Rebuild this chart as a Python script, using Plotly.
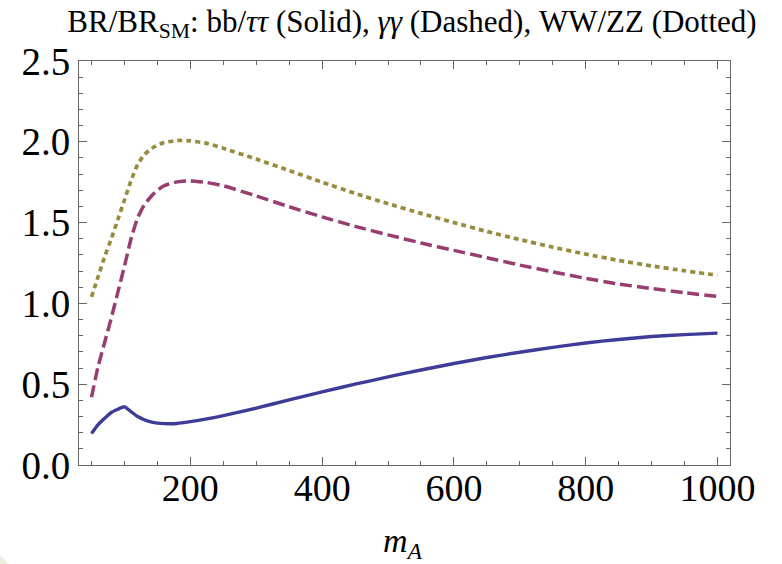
import plotly.graph_objects as go

# ---- data ----
mA = [50, 60, 70, 80, 90, 100, 110, 120, 130, 140, 150, 160, 180, 200, 225, 250,
      300, 350, 400, 450, 500, 550, 600, 650, 700, 750, 800, 850, 900, 950, 1000]

br_bb = [0.195, 0.25, 0.29, 0.325, 0.345, 0.36, 0.33, 0.30, 0.28, 0.267, 0.259, 0.256,
         0.257, 0.268, 0.285, 0.305, 0.352, 0.403, 0.453, 0.50, 0.545, 0.588, 0.628,
         0.665, 0.698, 0.728, 0.755, 0.777, 0.795, 0.807, 0.816]

br_gg = [0.42, 0.61, 0.76, 0.91, 1.07, 1.23, 1.40, 1.53, 1.61, 1.66, 1.70, 1.728,
         1.752, 1.758, 1.748, 1.728, 1.665, 1.598, 1.535, 1.477, 1.424, 1.374, 1.328,
         1.283, 1.237, 1.195, 1.155, 1.12, 1.092, 1.066, 1.043]

br_ww = [1.04, 1.165, 1.29, 1.40, 1.52, 1.64, 1.76, 1.86, 1.92, 1.955, 1.98, 1.995,
         2.008, 2.006, 1.99, 1.96, 1.893, 1.822, 1.75, 1.681, 1.617, 1.557, 1.50,
         1.445, 1.395, 1.348, 1.305, 1.266, 1.232, 1.202, 1.174]

x_ticks = [200, 400, 600, 800, 1000]
y_ticks = [0.0, 0.5, 1.0, 1.5, 2.0, 2.5]
y_tick_labels = ["0.0", "0.5", "1.0", "1.5", "2.0", "2.5"]

title_text = "BR/BR<sub>SM</sub>: bb/<i>ττ</i> (Solid), <i>γγ</i> (Dashed), WW/ZZ (Dotted)"
xlabel_text = "<i>m</i><sub><i>A</i></sub>"

# ---- figure ----
W, H = 782, 564
L, R, T, B = 79, 52, 61, 99
serif = "Liberation Serif"
frame_col = "#666666"

fig = go.Figure()
fig.add_trace(go.Scatter(x=mA, y=br_ww, mode="lines", name="WW/ZZ",
                         line=dict(color="#998b3d", width=3.7, dash="5px,4px", shape="spline", smoothing=0.5)))
fig.add_trace(go.Scatter(x=mA, y=br_gg, mode="lines", name="γγ",
                         line=dict(color="#993d71", width=3.5, dash="12px,5px", shape="spline", smoothing=0.5)))
fig.add_trace(go.Scatter(x=mA, y=br_bb, mode="lines", name="bb/ττ",
                         line=dict(color="#3d3d99", width=3.4, shape="spline", smoothing=0.5)))

axis_common = dict(
    showgrid=False, zeroline=False, showline=True, linecolor=frame_col, linewidth=1,
    mirror="ticks", ticks="inside", tickcolor=frame_col, tickwidth=1, ticklen=8,
)

fig.update_xaxes(
    range=[31, 1019], tickmode="array", tickvals=x_ticks,
    ticktext=[str(v) for v in x_ticks],
    tickfont=dict(family=serif, size=38, color="black"),
    ticklabelstandoff=-11,
    minor=dict(dtick=50, tick0=0, ticks="inside", ticklen=4, tickcolor=frame_col, tickwidth=1),
    **axis_common,
)
fig.update_yaxes(
    range=[0, 2.5], tickmode="array", tickvals=y_ticks, ticktext=y_tick_labels,
    tickfont=dict(family=serif, size=39, color="black"),
    minor=dict(dtick=0.1, tick0=0, ticks="inside", ticklen=4, tickcolor=frame_col, tickwidth=1),
    **axis_common,
)

fig.add_annotation(text=xlabel_text, xref="paper", yref="paper", x=0.497, y=(465 - 543) / 404,
                   xanchor="center", yanchor="middle", showarrow=False,
                   font=dict(family=serif, size=34, color="black"))

# faint decorative background blob in the bottom-left corner
fig.add_shape(type="circle", xref="paper", yref="paper", layer="below",
              x0=(-100 - L) / 651, x1=(20 - L) / 651,
              y0=(465 - 660) / 404, y1=(465 - 540) / 404,
              fillcolor="#eceee0", line=dict(width=0))

fig.update_layout(
    width=W, height=H, margin=dict(l=L, r=R, t=T, b=B),
    paper_bgcolor="white", plot_bgcolor="white", showlegend=False,
    title=dict(text=title_text, x=412 / W, xref="container", xanchor="center",
               y=1 - 21 / H, yref="container", yanchor="middle",
               font=dict(family=serif, size=31, color="black")),
)

fig.write_html("out.html", config={"displayModeBar": False},
               post_script="document.body.style.margin='0';document.body.style.padding='0';")
